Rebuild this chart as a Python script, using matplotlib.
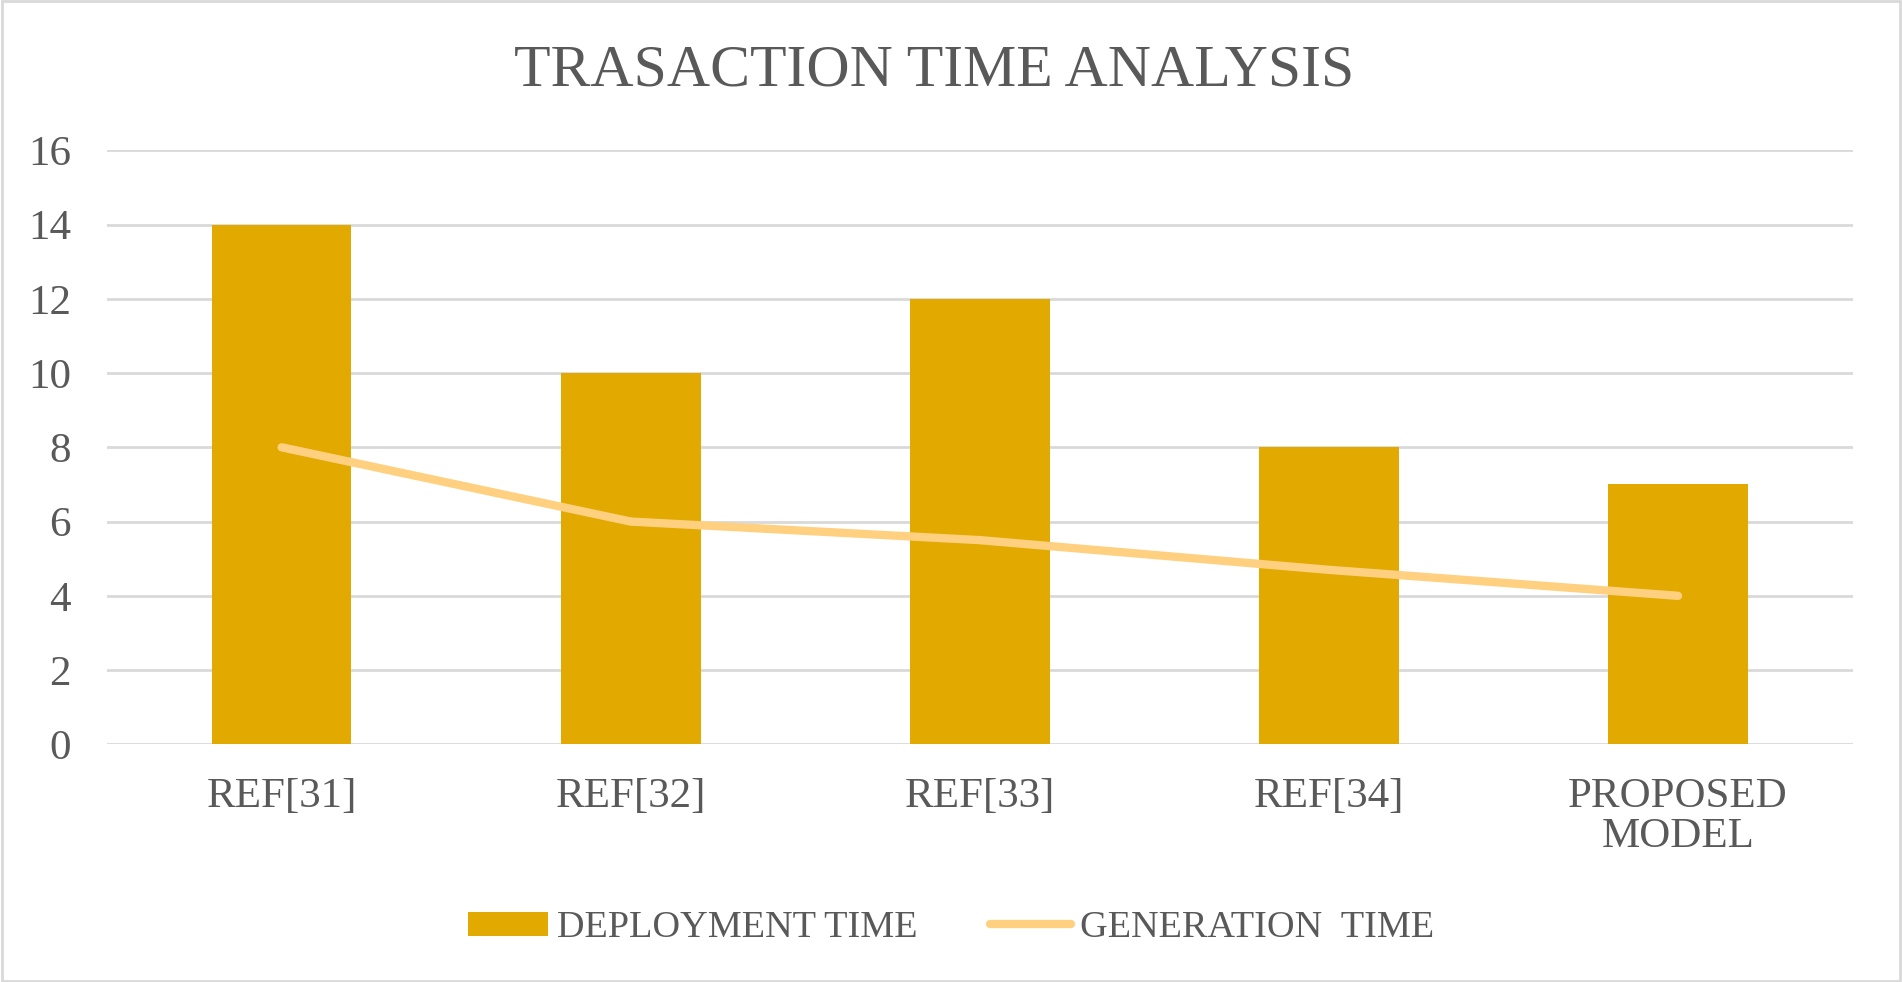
import matplotlib
matplotlib.use("Agg")
import matplotlib.pyplot as plt
from matplotlib.patches import Rectangle

categories = ["REF[31]", "REF[32]", "REF[33]", "REF[34]", "PROPOSED\nMODEL"]
deployment_time = [14, 10, 12, 8, 7]
generation_time = [8, 6, 5.5, 4.7, 4]
yticks = [0, 2, 4, 6, 8, 10, 12, 14, 16]

bar_color = "#E2AA00"
line_color = "#FFD07F"
text_color = "#595959"
grid_color = "#D9D9D9"

plt.rcParams["font.family"] = ["Liberation Serif", "DejaVu Serif"]

fig = plt.figure(figsize=(19.02, 9.82), dpi=100)
ax = fig.add_axes([0.0563, 0.242, 0.9177, 0.605])

x = list(range(len(categories)))
bars = ax.bar(x, deployment_time, width=0.4, color=bar_color, zorder=2,
              label="DEPLOYMENT TIME")
line, = ax.plot(x, generation_time, color=line_color, lw=6, solid_capstyle="round",
                zorder=3, label="GENERATION  TIME")

ax.set_xlim(-0.5, len(categories) - 0.5)
ax.set_ylim(0, 16)
ax.set_yticks(yticks)
ax.set_xticks(x)
ax.set_xticklabels(categories, linespacing=1.05)
ax.tick_params(axis="both", length=0, colors=text_color, labelsize=31)
ax.tick_params(axis="x", pad=24)
ax.tick_params(axis="y", pad=26)
ax.yaxis.grid(True, color=grid_color, lw=2, zorder=0)
for s in ax.spines.values():
    s.set_visible(False)

fig.text(0.491, 0.927, "TRASACTION TIME ANALYSIS", ha="center", va="center",
         fontsize=43, color=text_color)

fig.legend([bars, line], ["DEPLOYMENT TIME", "GENERATION  TIME"],
           loc="center", bbox_to_anchor=(0.5, 0.055), ncol=2, frameon=False,
           fontsize=27.5, labelcolor=text_color, handlelength=2.1,
           handleheight=0.6, columnspacing=1.9, handletextpad=0.25)

fig.patches.append(Rectangle((0.001, 0.001), 0.998, 0.998, transform=fig.transFigure,
                             fill=False, edgecolor=grid_color, lw=2))

fig.savefig("out.png", dpi=100, facecolor="white")
